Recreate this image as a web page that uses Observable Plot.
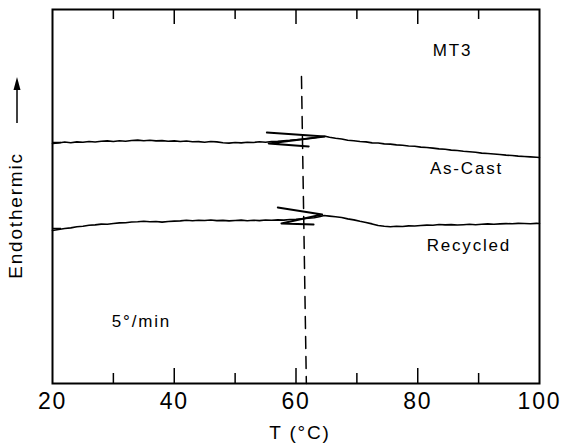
<!DOCTYPE html>
<html><head><meta charset="utf-8">
<script src="https://cdn.jsdelivr.net/npm/d3@7"></script>
<script src="https://cdn.jsdelivr.net/npm/@observablehq/plot@0.6"></script>
<style>
body{margin:0;background:#fff;}
#chart{width:565px;height:447px;}
#chart svg text{letter-spacing:1.8px;}
</style></head><body><div id="chart"></div>
<script>
// Temperature (°C) vs. DSC signal (arbitrary units, endothermic up)
const asCast = [[20,240],[21,240.5],[22,241.5],[23,240.8],[24,241.6],[25,241.2],[26,242],[27,241.5],[28,242.3],[29,242.6],[30,242],[31,242.8],[32,242.2],[33,243],[34,243.4],[35,242.7],[36,243.2],[37,242.6],[38,242.9],[39,242.3],[40,242.6],[41,242],[42,242.5],[43,241.7],[44,241.9],[45,241.3],[46,242],[47,241.6],[48,240.8],[49,240.4],[50,241],[51,240.6],[52,241.3],[53,241],[54,241.7],[55,241.3],[56,242],[57,242.3],[58,242.8],[59,243.2],[60,243.8],[61,244.3],[62,245],[63,245.8],[64,246.8],[64.8,247.3],[65.5,246.2],[66.5,245.2],[67.5,244.5],[68.5,243.2],[69.5,242.8],[70.5,242],[71.5,241.6],[72.5,240.6],[73.5,240.5],[74.5,239.6],[75.5,239.4],[76.5,238.6],[77.5,238.3],[78.5,237.5],[79.5,237.2],[80.5,236.4],[81.5,236],[82.5,235.4],[83.5,234.6],[84.5,234.2],[85.5,233.4],[86.5,233],[87.5,232.2],[88.5,231.8],[89.5,231.2],[90.5,230.4],[91.5,230],[92.5,229.5],[93.5,229],[94.5,228.4],[95.5,228],[96.5,227.4],[97.5,227],[98.5,226.6],[99.5,226.2],[100,226]];
const recycled = [[20,153],[21,154],[22,155],[23,155.6],[24,156.8],[25,157.2],[26,158.3],[27,158.6],[28,159.4],[29,159.2],[30,160],[31,160.6],[32,160.8],[33,161.5],[34,161.8],[35,162.3],[36,161.8],[37,162],[38,161.4],[39,162],[40,162.4],[41,162.6],[42,163.2],[43,162.8],[44,163.2],[45,163],[46,163.5],[47,162.9],[48,163.1],[49,162.6],[50,163],[51,163.4],[52,162.8],[53,163.3],[54,162.9],[55,163.5],[56,163.2],[57,163.6],[58,163.4],[59,164],[60,164.3],[61,164.8],[62,165.3],[63,165.8],[64,167],[64.6,168],[65.5,167.4],[66.5,166.8],[67.5,166],[68.5,164.6],[69.5,163.6],[70.5,162.2],[71.5,161],[72.5,159.6],[73.5,158],[74.5,157.2],[75.5,156.8],[76.5,157.3],[77.5,157],[78.5,157.6],[79.5,157.5],[80.5,158],[81.5,158.4],[82.5,158.3],[83.5,159],[84.5,158.6],[85.5,158.9],[86.5,158.5],[87.5,158.8],[88.5,159.2],[89.5,158.8],[90.5,159.2],[91.5,159.6],[92.5,159.3],[93.5,159.6],[94.5,159.9],[95.5,159.7],[96.5,160.1],[97.5,160],[98.5,159.8],[99.5,160.1],[100,160]];
// calibration "Z" marks on each trace
const asCastMarker = [[55.2,251],[64.7,247],[55.5,240],[62.1,237]];
const recycledMarker = [[57.0,176],[64.3,169],[57.6,160],[62.9,159]];
// transition line
const transitionLine = [[60.9,307],[61.7,0]];
const majorTicks = [20, 40, 60, 80, 100];
const minorTicks = [30, 50, 70, 90];
const innerMajor = [40, 60, 80];
const baselineLevels = [241, 155];
const annotations = [
  {text: "MT3", T: 85.7, v: 333},
  {text: "As-Cast", T: 88.0, v: 214.5},
  {text: "Recycled", T: 88.4, v: 138},
  {text: "5°/min", T: 34.6, v: 62}
];

const W = 565, H = 447, mL = 52, mR = 26, mT = 9, mB = 64;
const innerH = H - mT - mB, innerW = W - mL - mR;

const line = (data, sw) => Plot.line(data, {x: d => d[0], y: d => d[1], stroke: "#000", strokeWidth: sw, curve: "linear"});

const chart = Plot.plot({
  width: W, height: H,
  marginLeft: mL, marginRight: mR, marginTop: mT, marginBottom: mB,
  style: {fontFamily: "'Liberation Sans', Arial, sans-serif", color: "#000", background: "#fff"},
  x: {domain: [20, 100]},
  y: {domain: [0, 374], axis: null},
  marks: [
    Plot.frame({stroke: "#000", strokeWidth: 2}),
    Plot.ruleX(innerMajor, {x: d => d, insetTop: innerH - 15, strokeWidth: 1.5}),
    Plot.ruleX(minorTicks, {x: d => d, insetTop: innerH - 10, strokeWidth: 1.5}),
    Plot.ruleX(innerMajor, {x: d => d, insetBottom: innerH - 15, strokeWidth: 1.5}),
    Plot.ruleX(minorTicks, {x: d => d, insetBottom: innerH - 10, strokeWidth: 1.5}),
    Plot.ruleY(baselineLevels, {y: d => d, insetRight: innerW - 9, strokeWidth: 1.5}),
    Plot.axisX(majorTicks, {tickSize: 0, tickPadding: 9, fontSize: 23, label: null}),
    Plot.line(transitionLine, {x: d => d[0], y: d => d[1], stroke: "#000", strokeWidth: 1.5, strokeDasharray: "12,8"}),
    line(asCast, 1.6),
    line(recycled, 1.6),
    line(asCastMarker, 1.8),
    line(recycledMarker, 1.8),
    Plot.text(annotations, {x: "T", y: "v", text: "text", fontSize: 17, fill: "#000"}),
    Plot.text(["T (°C)"], {frameAnchor: "bottom", dx: 4, dy: 55, fontSize: 19, fill: "#000"}),
    Plot.text(["Endothermic"], {frameAnchor: "left", textAnchor: "middle", dx: -37, dy: 19, rotate: -90, fontSize: 19, fill: "#000"})
  ]
});
document.getElementById("chart").appendChild(chart);

// arrow beside the y label (pointing up = endothermic)
const svg = d3.select(chart.tagName.toLowerCase() === "svg" ? chart : chart.querySelector("svg"));
svg.append("line").attr("x1", 17).attr("x2", 17).attr("y1", 123).attr("y2", 88).attr("stroke", "#000").attr("stroke-width", 1.5);
svg.append("path").attr("d", "M17,77 L13.5,90 L20.5,90 Z").attr("fill", "#000");
</script>
</body></html>
